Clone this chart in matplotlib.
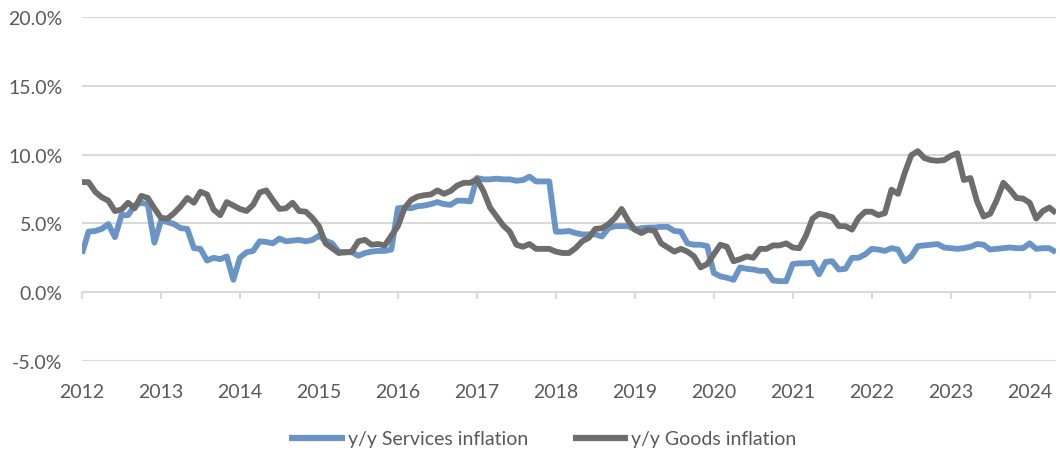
import numpy as np
import matplotlib
matplotlib.use("Agg")
import matplotlib.pyplot as plt
from matplotlib.transforms import blended_transform_factory

# Monthly data, Jan 2012 - May 2024 (percent, y/y)
services = [
    2.8, 4.4, 4.45, 4.6, 4.95, 4.0, 5.6, 5.6, 6.3, 6.5, 6.4, 3.6,          # 2012
    5.2, 5.1, 4.95, 4.65, 4.6, 3.2, 3.15, 2.3, 2.5, 2.4, 2.6, 0.9,         # 2013
    2.5, 2.9, 3.0, 3.7, 3.65, 3.55, 3.9, 3.7, 3.75, 3.8, 3.7, 3.8,         # 2014
    4.1, 3.75, 3.55, 2.95, 2.9, 2.9, 2.65, 2.85, 2.95, 3.0, 3.0, 3.1,      # 2015
    6.1, 6.15, 6.1, 6.25, 6.3, 6.4, 6.55, 6.4, 6.35, 6.65, 6.65, 6.6,      # 2016
    8.3, 8.2, 8.2, 8.25, 8.2, 8.2, 8.1, 8.15, 8.4, 8.05, 8.05, 8.05,       # 2017
    4.4, 4.4, 4.45, 4.3, 4.2, 4.2, 4.2, 4.05, 4.65, 4.8, 4.8, 4.8,         # 2018
    4.55, 4.65, 4.7, 4.7, 4.75, 4.75, 4.45, 4.4, 3.55, 3.45, 3.45, 3.35,   # 2019
    1.4, 1.15, 1.05, 0.9, 1.8, 1.7, 1.65, 1.55, 1.55, 0.85, 0.8, 0.8,      # 2020
    2.05, 2.1, 2.1, 2.15, 1.3, 2.2, 2.25, 1.65, 1.7, 2.5, 2.5, 2.75,       # 2021
    3.15, 3.1, 3.0, 3.2, 3.1, 2.25, 2.6, 3.35, 3.4, 3.45, 3.5, 3.25,       # 2022
    3.2, 3.15, 3.2, 3.3, 3.5, 3.45, 3.1, 3.15, 3.2, 3.25, 3.2, 3.2,        # 2023
    3.55, 3.15, 3.2, 3.2, 2.9,                                             # 2024
]
goods = [
    8.0, 8.0, 7.3, 6.9, 6.65, 5.9, 6.0, 6.5, 6.1, 7.0, 6.85, 6.1,          # 2012
    5.4, 5.35, 5.75, 6.25, 6.85, 6.5, 7.3, 7.1, 6.0, 5.6, 6.55, 6.3,       # 2013
    6.05, 5.9, 6.35, 7.25, 7.4, 6.7, 6.05, 6.1, 6.5, 5.9, 5.85, 5.4,       # 2014
    4.8, 3.55, 3.2, 2.85, 2.9, 2.95, 3.7, 3.8, 3.45, 3.5, 3.4, 4.1,        # 2015
    4.8, 6.1, 6.7, 6.95, 7.05, 7.1, 7.4, 7.15, 7.35, 7.75, 7.95, 7.95,     # 2016
    8.2, 7.35, 6.15, 5.5, 4.85, 4.4, 3.45, 3.3, 3.5, 3.15, 3.15, 3.15,     # 2017
    2.95, 2.85, 2.85, 3.2, 3.7, 3.95, 4.6, 4.65, 4.95, 5.4, 6.05, 5.2,     # 2018
    4.55, 4.3, 4.55, 4.45, 3.55, 3.25, 2.95, 3.15, 2.95, 2.6, 1.8, 2.05,   # 2019
    2.75, 3.45, 3.3, 2.25, 2.4, 2.6, 2.5, 3.15, 3.15, 3.4, 3.4, 3.55,      # 2020
    3.25, 3.2, 4.1, 5.35, 5.7, 5.6, 5.45, 4.8, 4.8, 4.55, 5.4, 5.85,       # 2021
    5.85, 5.6, 5.75, 7.45, 7.15, 8.65, 9.95, 10.25, 9.75, 9.6, 9.55, 9.6,  # 2022
    9.9, 10.1, 8.15, 8.3, 6.6, 5.5, 5.7, 6.7, 7.95, 7.45, 6.85, 6.8,       # 2023
    6.5, 5.35, 5.9, 6.15, 5.75,                                            # 2024
]
years = list(range(2012, 2025))
y_ticks = [-5, 0, 5, 10, 15, 20]

start_year = 2012
x = start_year + np.arange(len(services)) / 12.0

TEXT = "#595959"
GRID = "#D9D9D9"
BLUE = "#6A94C6"
GRAY = "#6D6D6D"
FS = 14

plt.rcParams['font.family'] = ['Lato', 'DejaVu Sans']

fig = plt.figure(figsize=(10.6, 4.56), dpi=100)
ax = fig.add_axes([82/1060, 1 - 362/456, (1056-82)/1060, (362-18)/456])

ax.plot(x, services, color=BLUE, lw=4.2, solid_joinstyle='round',
        solid_capstyle='butt', label="y/y Services inflation", zorder=3)
ax.plot(x, goods, color=GRAY, lw=4.2, solid_joinstyle='round',
        solid_capstyle='butt', label="y/y Goods inflation", zorder=4)

ax.set_xlim(x[0], x[-1])
ax.set_ylim(-5, 20)
ax.set_yticks(y_ticks)
ax.set_yticklabels([f"{v:.1f}%" for v in y_ticks])
ax.set_xticks(years)
ax.set_xticklabels([])

ax.grid(axis='y', color=GRID, lw=1.5, zorder=0)
for s in ax.spines.values():
    s.set_visible(False)
ax.tick_params(axis='y', length=0, pad=14, labelsize=FS, labelcolor=TEXT)
ax.tick_params(axis='x', length=0)

# year labels at the bottom of the plot area
lab_trans = blended_transform_factory(ax.transData, ax.transAxes)
for yr in years:
    ax.text(yr, -30/344, str(yr), transform=lab_trans, ha='center', va='center',
            fontsize=FS, color=TEXT, clip_on=False)

# tick marks hanging from the zero line
ax.vlines(years, -0.5, 0, colors=GRID, lw=1.5, zorder=1, clip_on=False)

leg = fig.legend(loc='center', bbox_to_anchor=(0.512, 1 - 440/456), ncol=2,
                 frameon=False, fontsize=FS, handlelength=2.85, handletextpad=0.15,
                 columnspacing=2.3)
for t in leg.get_texts():
    t.set_color(TEXT)
for h in leg.get_lines():
    h.set_linewidth(4.5)

fig.savefig("out.png", dpi=100)
